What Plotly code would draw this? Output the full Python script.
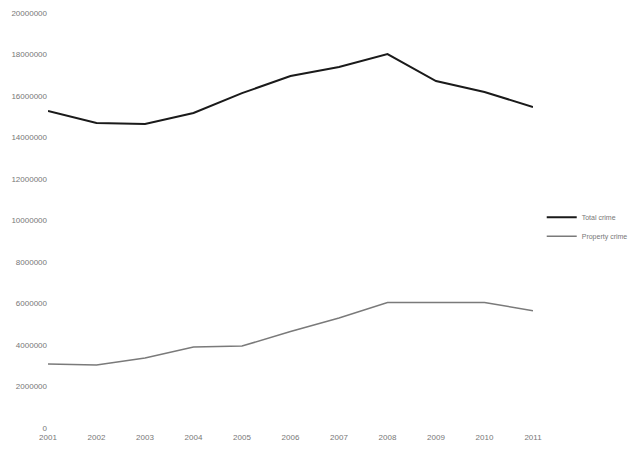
import plotly.graph_objects as go

# years on the x axis
years = [2001, 2002, 2003, 2004, 2005, 2006, 2007, 2008, 2009, 2010, 2011]

# series values
total_series = [15280000, 14700000, 14650000, 15180000, 16140000, 16960000,
                17400000, 18020000, 16720000, 16190000, 15470000]
second_series = [3080000, 3040000, 3370000, 3900000, 3950000, 4650000,
                 5300000, 6050000, 6050000, 6050000, 5650000]

series_names = ["Total crime", "Property crime"]

y_ticks = [0, 2000000, 4000000, 6000000, 8000000, 10000000,
           12000000, 14000000, 16000000, 18000000, 20000000]

fig = go.Figure()
fig.add_trace(go.Scatter(x=years, y=total_series, mode="lines",
                         name=series_names[0],
                         line=dict(color="#1a1a1a", width=2)))
fig.add_trace(go.Scatter(x=years, y=second_series, mode="lines",
                         name=series_names[1],
                         line=dict(color="#7a7a7a", width=1.5)))

# page body adds ~8px offset, margins compensate for it
fig.update_layout(
    width=640, height=453,
    margin=dict(l=40, r=115, t=5, b=33),
    paper_bgcolor="white", plot_bgcolor="white",
    font=dict(family="Liberation Sans, Arial", size=8, color="#777777"),
    showlegend=True,
    legend=dict(x=1.018, y=0.485, xanchor="left", yanchor="middle",
                font=dict(size=7, color="#777777"),
                tracegroupgap=0, itemwidth=30,
                bgcolor="rgba(0,0,0,0)"),
)
fig.update_xaxes(range=[2001, 2011], tickvals=years,
                 ticktext=[str(y) for y in years], automargin=False,
                 ticklabelstandoff=3,
                 showgrid=False, zeroline=False, showline=False, ticks="")
fig.update_yaxes(range=[0, 20000000], tickvals=y_ticks,
                 ticktext=[str(v) for v in y_ticks], automargin=False,
                 showgrid=False, zeroline=False, showline=False, ticks="")

fig.write_html("out.html")
